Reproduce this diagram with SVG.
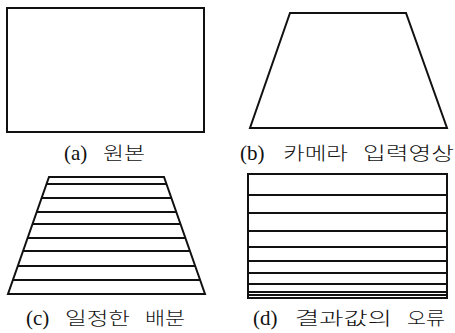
<svg xmlns="http://www.w3.org/2000/svg" width="455" height="333" viewBox="0 0 455 333">
<style>
.o{fill:none;stroke:#111;stroke-width:2;stroke-linejoin:miter}
.l{stroke:#111;stroke-width:1.8}
.t{font-family:"Liberation Serif","Noto Sans CJK KR",serif;font-size:21px;fill:#111}
.k{font-family:"Noto Sans CJK KR","Liberation Serif",sans-serif;font-size:18px;font-weight:300;fill:#111}
</style>
<rect width="455" height="333" fill="#fff"/>
<g id="a">
<rect class="o" x="7" y="8" width="197" height="124"/>
<text class="t" x="64" y="160">(a)</text>
<text class="k" x="103" y="160" textLength="42" lengthAdjust="spacingAndGlyphs">원본</text>
</g>
<g id="b">
<polygon class="o" points="290,13 406,13 447,128 250,128"/>
<text class="t" x="240" y="160">(b)</text>
<text class="k" x="283" y="160" textLength="65" lengthAdjust="spacingAndGlyphs">카메라</text>
<text class="k" x="363" y="160" textLength="91" lengthAdjust="spacingAndGlyphs">입력영상</text>
</g>
<g id="c">
<polygon class="o" points="49,177 164,177 205,294 8,294"/>
<g>
<line class="l" x1="46.5" y1="184" x2="166.5" y2="184"/>
<line class="l" x1="41.6" y1="198" x2="171.4" y2="198"/>
<line class="l" x1="36.7" y1="212" x2="176.3" y2="212"/>
<line class="l" x1="32.5" y1="224" x2="180.5" y2="224"/>
<line class="l" x1="27.6" y1="238" x2="185.4" y2="238"/>
<line class="l" x1="23.1" y1="251" x2="189.9" y2="251"/>
<line class="l" x1="17.8" y1="266" x2="195.2" y2="266"/>
<line class="l" x1="12.9" y1="280" x2="200.1" y2="280"/>
</g>
<text class="t" x="26" y="325">(c)</text>
<text class="k" x="65" y="325" textLength="65" lengthAdjust="spacingAndGlyphs">일정한</text>
<text class="k" x="145" y="325" textLength="40" lengthAdjust="spacingAndGlyphs">배분</text>
</g>
<g id="d">
<rect class="o" x="248" y="174" width="199" height="124"/>
<g>
<line class="l" x1="248" y1="195" x2="447" y2="195"/>
<line class="l" x1="248" y1="213" x2="447" y2="213"/>
<line class="l" x1="248" y1="231" x2="447" y2="231"/>
<line class="l" x1="248" y1="247" x2="447" y2="247"/>
<line class="l" x1="248" y1="261" x2="447" y2="261"/>
<line class="l" x1="248" y1="273" x2="447" y2="273"/>
<line class="l" x1="248" y1="284" x2="447" y2="284"/>
<line class="l" x1="248" y1="292" x2="447" y2="292"/>
<line class="l" x1="248" y1="295" x2="447" y2="295"/>
</g>
<text class="t" x="253" y="325">(d)</text>
<text class="k" x="295" y="325" textLength="97" lengthAdjust="spacingAndGlyphs">결과값의</text>
<text class="k" x="407" y="325" textLength="38" lengthAdjust="spacingAndGlyphs">오류</text>
</g>
</svg>
